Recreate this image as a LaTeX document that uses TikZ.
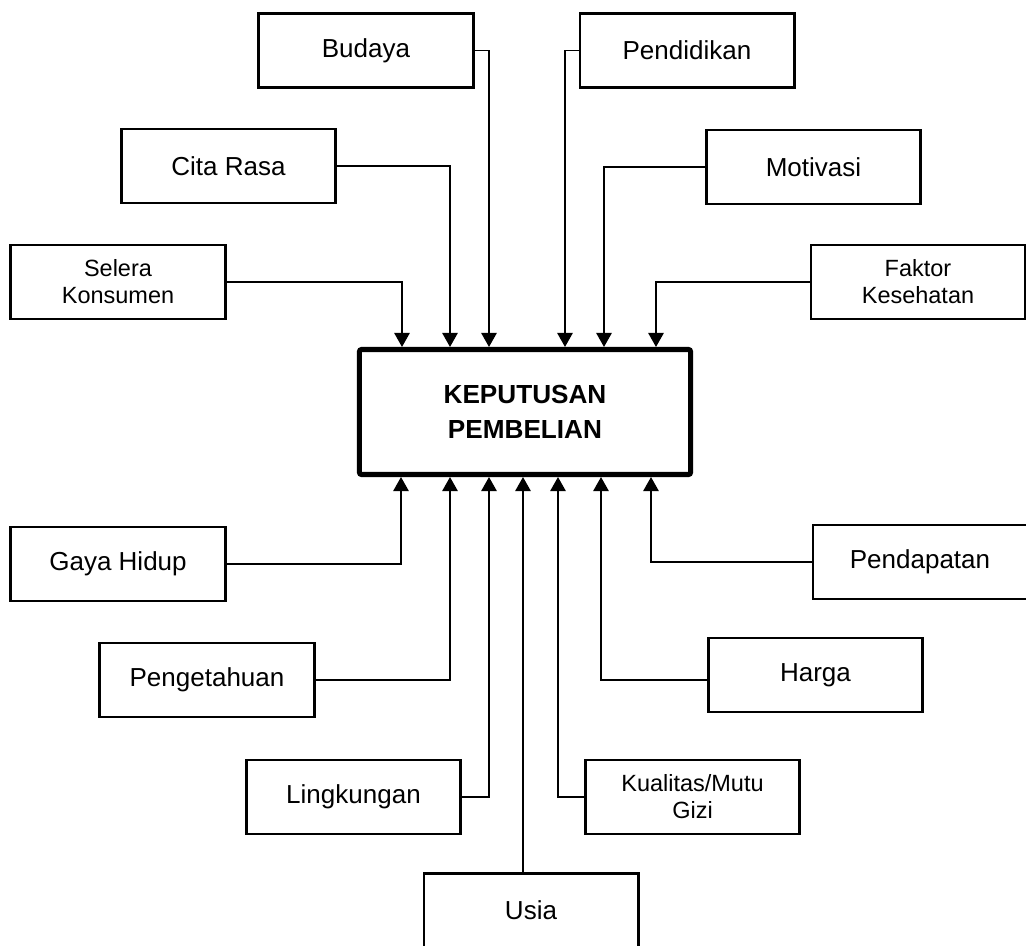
\documentclass[tikz,border=0pt]{standalone}
\usepackage{fontspec}
\setmainfont{Liberation Sans}
\usetikzlibrary{arrows.meta,calc}
\tikzset{
    factor/.style = {draw, line width = 2.1pt, minimum width = 5.35cm, minimum height = 1.85cm, inner sep = 0pt, align = center, font = \fontsize{18.5}{21.3}\selectfont},
    smallfactor/.style = {factor, font = \fontsize{16.7}{19.2}\selectfont},
    decision/.style = {draw, line width = 3.6pt, rounded corners = 1.5pt, minimum width = 8.275cm, minimum height = 3.125cm, inner sep = 0pt, align = center, font = \bfseries\fontsize{18.6}{24.8}\selectfont},
    conn/.style = {line width = 1.1pt, -{Triangle[width = 11pt, length = 10pt]}}
}
\begin{document}
\begin{tikzpicture}[x = 0.025cm, y = -0.025cm]
        \clip (0,0) rectangle (1026,946);
        \node[decision] (kp) at (525,412) {KEPUTUSAN\\PEMBELIAN};
        \node[factor] (budaya) at (366,50.5) {Budaya};
        \node[factor] (pendidikan) at (687,50.5) {Pendidikan};
        \node[factor] (citarasa) at (228.5,166) {Cita Rasa};
        \node[factor] (motivasi) at (813.5,167) {Motivasi};
        \node[smallfactor] (selera) at (118,282) {Selera\\Konsumen};
        \node[smallfactor] (faktor) at (918,282) {Faktor\\Kesehatan};
        \node[factor] (gaya) at (118,564) {Gaya Hidup};
        \node[factor] (pendapatan) at (920,562) {Pendapatan};
        \node[factor] (pengetahuan) at (207,680) {Pengetahuan};
        \node[factor] (harga) at (815.5,675) {Harga};
        \node[factor] (lingkungan) at (353.5,797) {Lingkungan};
        \node[smallfactor] (kualitas) at (692.5,797) {Kualitas/Mutu\\Gizi};
        \node[factor] (usia) at (531,910.5) {Usia};
        \begin{scope}[style = conn]
            \draw (selera.east) -| ($(kp.north)+(-123,0)$);
            \draw (citarasa.east) -| ($(kp.north)+(-75,0)$);
            \draw (budaya.east) -| ($(kp.north)+(-36,0)$);
            \draw (pendidikan.west) -| ($(kp.north)+(40,0)$);
            \draw (motivasi.west) -| ($(kp.north)+(79,0)$);
            \draw (faktor.west) -| ($(kp.north)+(131,0)$);
            \draw (gaya.east) -| ($(kp.south)+(-124,0)$);
            \draw (pengetahuan.east) -| ($(kp.south)+(-75,0)$);
            \draw (lingkungan.east) -| ($(kp.south)+(-36,0)$);
            \draw ($(usia.north -| kp.south)+(-2,0)$) -- ($(kp.south)+(-2,0)$);
            \draw (kualitas.west) -| ($(kp.south)+(33,0)$);
            \draw (harga.west |- pengetahuan.east) -| ($(kp.south)+(76,0)$);
            \draw (pendapatan.west) -| ($(kp.south)+(126,0)$);
        \end{scope}
    \end{tikzpicture}
\end{document}
